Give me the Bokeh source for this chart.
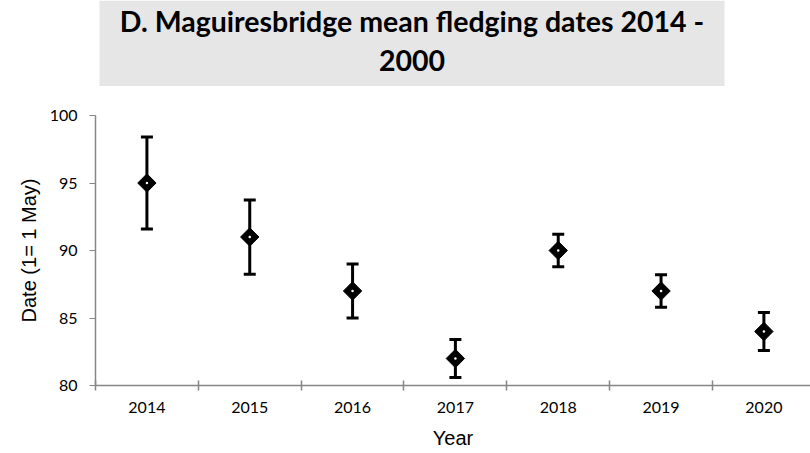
import math
from bokeh.plotting import figure
from bokeh.models import Range1d, FixedTicker, Whisker, TeeHead, ColumnDataSource
from bokeh.layouts import column
from bokeh.embed import file_html
from bokeh.resources import INLINE
from bokeh.core.properties import value

# ---- data ----
years = [2014, 2015, 2016, 2017, 2018, 2019, 2020]
year_labels = ["2014", "2015", "2016", "2017", "2018", "2019", "2020"]
mean_dates = [95.0, 91.0, 87.0, 82.0, 90.0, 87.0, 84.0]
upper_err = [98.4, 93.75, 89.0, 83.4, 91.2, 88.2, 85.4]
lower_err = [91.6, 88.25, 85.0, 80.6, 88.8, 85.8, 82.6]
y_ticks = [80, 85, 90, 95, 100]
title_lines = ["D. Maguiresbridge mean fledging dates 2014 -", "2000"]
x_label = "Year"
y_label = "Date (1= 1 May)"

AXIS_GREY = "#868686"
W = 810
LEFT = 95
TITLE_H = 86

# ---- title panel (frame spans LEFT..W in page pixels) ----
t = figure(width=W, height=TITLE_H, output_backend="svg", toolbar_location=None,
           x_range=Range1d(LEFT, W), y_range=Range1d(TITLE_H, 0),
           min_border=0, min_border_left=LEFT, min_border_right=0,
           min_border_top=0, min_border_bottom=0)
t.axis.visible = False
t.grid.visible = False
t.outline_line_color = None
t.background_fill_color = None
t.border_fill_color = None
t.quad(left=[99], right=[724], top=[0], bottom=[TITLE_H], fill_color="#e6e6e6", line_color=None)
t.text(x=[411.5, 411.5], y=[20, 60], text=title_lines, text_align="center",
       text_baseline="middle", text_font=value("Lato"), text_font_style="bold",
       text_font_size="28.5px", text_color="black")

# ---- main chart ----
px_per_year = 102.83
frame_w = W - LEFT
p = figure(width=W, height=453 - TITLE_H, output_backend="svg", toolbar_location=None,
           x_range=Range1d(years[0] - 0.5, years[0] - 0.5 + frame_w / px_per_year),
           y_range=Range1d(80, 100),
           min_border_left=LEFT, min_border_right=0, min_border_top=29, min_border_bottom=68)
p.grid.visible = False
p.outline_line_color = None

src = ColumnDataSource(dict(x=years, y=mean_dates, upper=upper_err, lower=lower_err))

p.add_layout(Whisker(base="x", upper="upper", lower="lower", source=src,
                     line_width=3, line_color="black",
                     upper_head=TeeHead(size=12, line_width=3, line_color="black"),
                     lower_head=TeeHead(size=12, line_width=3, line_color="black")))
p.scatter("x", "y", source=src, marker="square", angle=math.pi / 4, size=13,
          fill_color="black", line_color="black")
p.scatter("x", "y", source=src, marker="circle", size=2.5, fill_color="white", line_color=None)

# x axis: labels at category centres, ticks at category boundaries
boundaries = [yr - 0.5 for yr in years] + [years[-1] + 0.5]
p.xaxis.ticker = FixedTicker(ticks=years, minor_ticks=boundaries)
p.xaxis.major_label_overrides = {yr: lab for yr, lab in zip(years, year_labels)}
p.xaxis.major_tick_line_color = None
p.xaxis.major_tick_out = 0
p.xaxis.major_tick_in = 0
p.xaxis.minor_tick_in = 5
p.xaxis.minor_tick_out = 5
p.xaxis.minor_tick_line_color = AXIS_GREY
p.xaxis.minor_tick_line_width = 1.5
p.xaxis.major_label_standoff = 11

p.yaxis.ticker = FixedTicker(ticks=y_ticks)
p.yaxis.major_tick_out = 6
p.yaxis.major_tick_in = 0
p.yaxis.minor_tick_line_color = None
p.yaxis.major_tick_line_color = AXIS_GREY
p.yaxis.major_label_standoff = 12

for ax in (p.xaxis, p.yaxis):
    ax.axis_line_color = AXIS_GREY
    ax.axis_line_width = 1.5
    ax.major_label_text_font = "Lato"
    ax.major_label_text_font_size = "16px"
    ax.major_label_text_color = "black"
    ax.axis_label_text_font = "Liberation Sans"
    ax.axis_label_text_font_style = "normal"
    ax.axis_label_text_font_size = "20px"
    ax.axis_label_text_color = "black"

p.xaxis.axis_label = x_label
p.xaxis.axis_label_standoff = 11
p.yaxis.axis_label = y_label
p.yaxis.axis_label_standoff = 7

layout = column(t, p, spacing=0)
open("out.html", "w").write(file_html(layout, INLINE))
